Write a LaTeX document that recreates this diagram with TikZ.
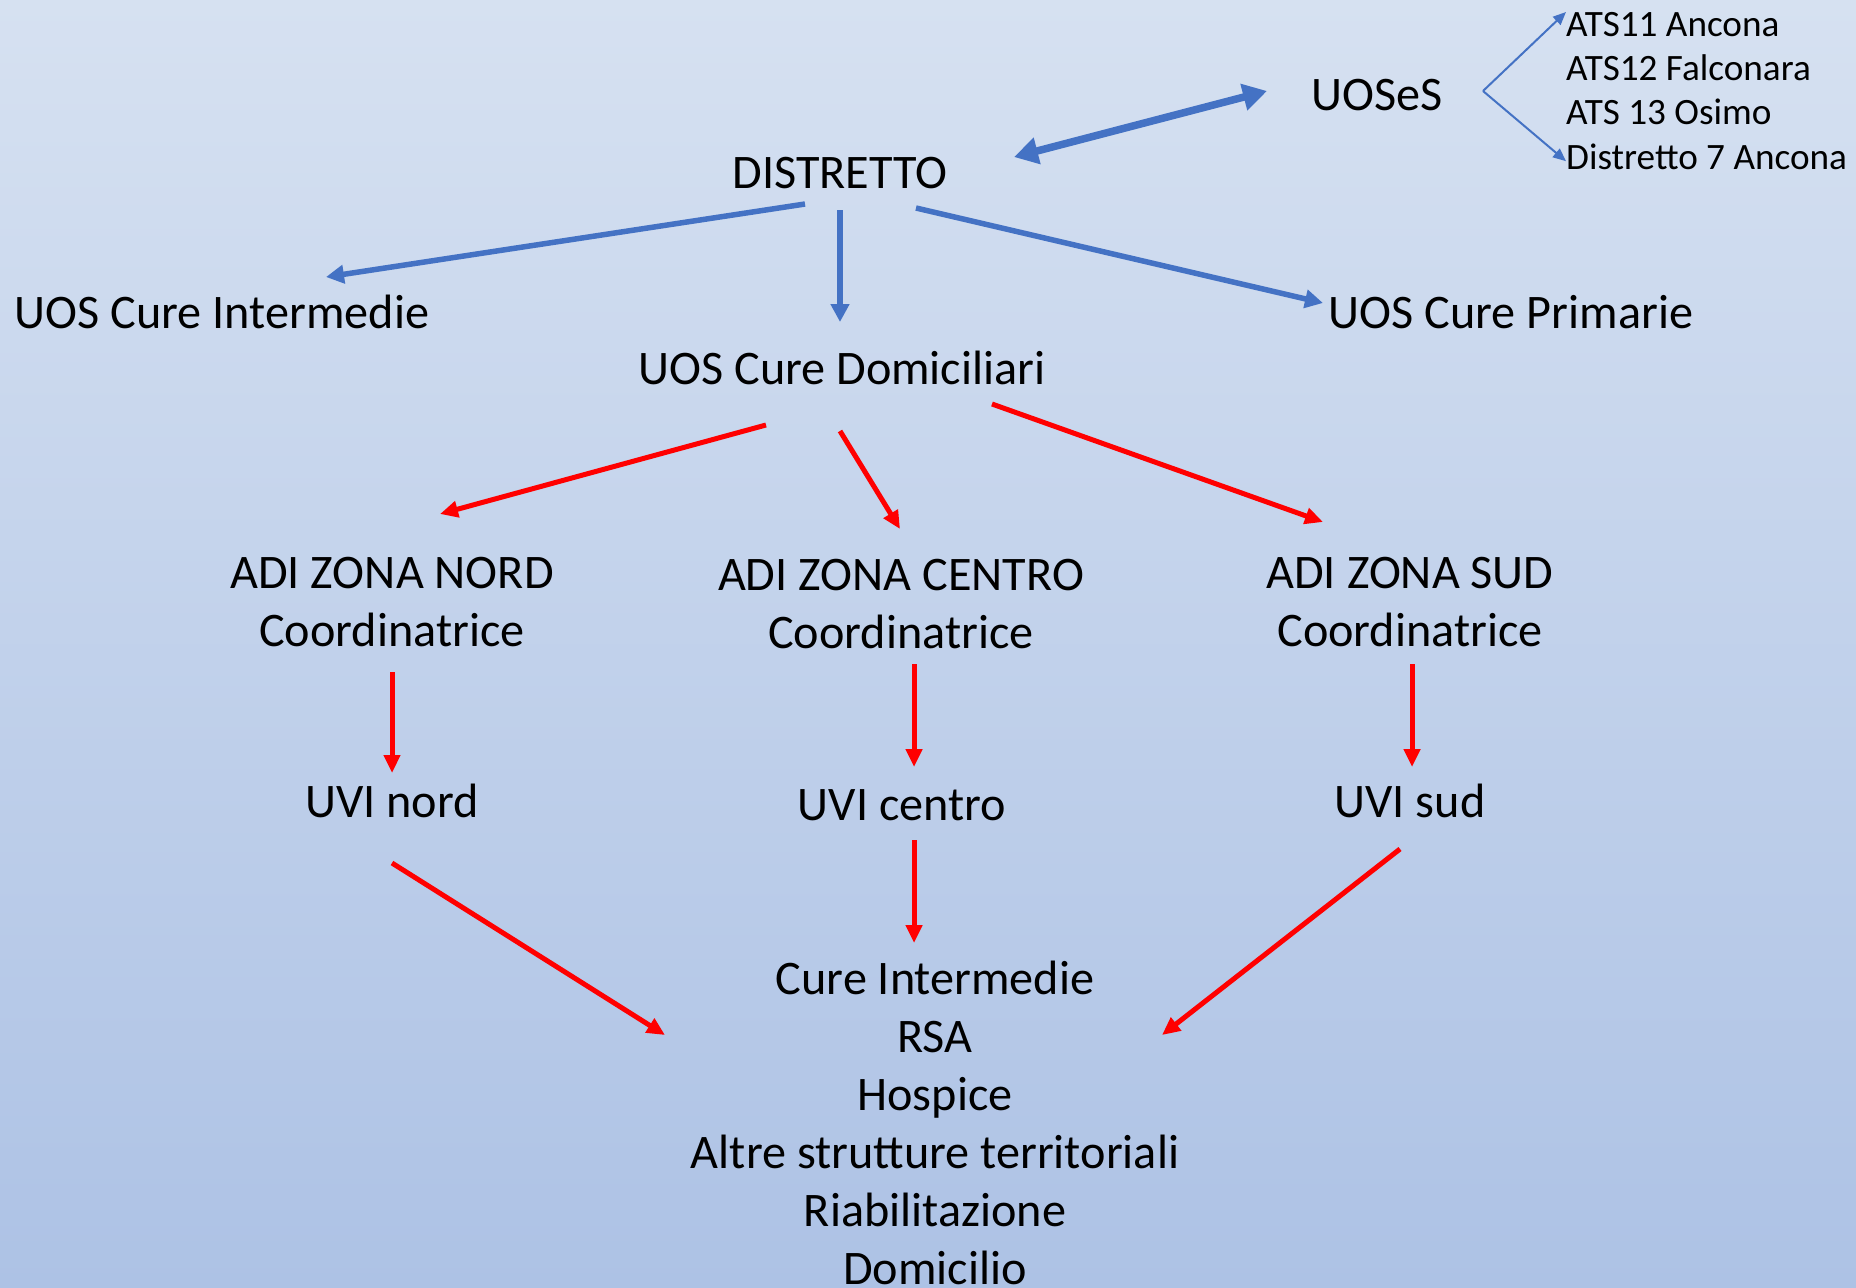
\documentclass[tikz,border=0pt]{standalone}
\usepackage{fontspec}
\setmainfont{Carlito}
\usetikzlibrary{arrows.meta}
\definecolor{bgtop}{RGB}{214,225,241}
\definecolor{bgbot}{RGB}{173,194,229}
\definecolor{offblue}{RGB}{68,114,196}
\tikzset{
  lbl/.style={inner sep=0pt, font=\fontsize{48.2}{58}\selectfont, align=center},
  small/.style={inner sep=0pt, font=\fontsize{37.2}{45}\selectfont, anchor=base west},
  bluearr/.style={draw=offblue, line width=5.5pt, -{Triangle[length=18pt,width=18pt]}},
  dblarr/.style={draw=offblue, line width=7.5pt, {Triangle[length=24pt,width=26pt]}-{Triangle[length=24pt,width=26pt]}},
  thinarr/.style={draw=offblue, line width=2pt, -{Triangle[length=13pt,width=11pt]}},
  redarr/.style={draw=red, line width=5pt, -{Triangle[length=18pt,width=16pt]}}
}

\begin{document}
\begin{tikzpicture}[x=1pt, y=-1pt]
  % background
  \shade[top color=bgtop, bottom color=bgbot] (0,0) rectangle (1856,1288);
  \useasboundingbox (0,0) rectangle (1856,1288);
  % top levels
  \node[lbl, anchor=base] (dist) at (840,188) {DISTRETTO};
  \node[lbl, anchor=base] (uoses) at (1377,110) {UOSeS};
  \foreach \t [count=\i] in {ATS11 Ancona, ATS12 Falconara, ATS 13 Osimo, Distretto 7 Ancona}
    \node[small] (ats\i) at (1566,36+44.4*\i-44.4) {\t};
  \node[lbl, anchor=base] (uosci) at (222,328) {UOS Cure Intermedie};
  \node[lbl, anchor=base] (uoscd) at (842,384) {UOS Cure Domiciliari};
  \node[lbl, anchor=base] (uoscp) at (1511,328) {UOS Cure Primarie};
  % zones
  \node[lbl, anchor=north] (adinord) at (392,557) {ADI ZONA NORD\\Coordinatrice};
  \node[lbl, anchor=north] (adicentro) at (901,559) {ADI ZONA CENTRO\\Coordinatrice};
  \node[lbl, anchor=north] (adisud) at (1410,557) {ADI ZONA SUD\\Coordinatrice};
  \node[lbl, anchor=base] (uvinord) at (392,817) {UVI nord};
  \node[lbl, anchor=base] (uvicentro) at (902,820) {UVI centro};
  \node[lbl, anchor=base] (uvisud) at (1410,817) {UVI sud};
  \node[lbl, anchor=north] (strutture) at (935,961) {Cure Intermedie\\RSA\\Hospice\\Altre strutture territoriali\\Riabilitazione\\Domicilio};
  % blue links
  \draw[dblarr] ([shift={(174,-31)}]dist.base) -- ([shift={(-110,-19)}]uoses.base);
  \draw[bluearr] ([shift={(-35,16)}]dist.base) -- ([shift={(104,-51)}]uosci.base);
  \draw[bluearr] ([shift={(0,22)}]dist.base) -- ([shift={(-2,-62)}]uoscd.base);
  \draw[bluearr] ([shift={(76,20)}]dist.base) -- ([shift={(-188,-25)}]uoscp.base);
  \coordinate (fork) at ([shift={(106,-19)}]uoses.base);
  \draw[thinarr] (fork) -- ([shift={(0,-24)}]ats1.base west);
  \draw[thinarr] (fork) -- ([shift={(0,-8)}]ats4.base west);
  % red links
  \draw[redarr] ([shift={(-76,41)}]uoscd.base) -- ([shift={(48,-43)}]adinord.north);
  \draw[redarr] ([shift={(-2,47)}]uoscd.base) -- ([shift={(-1,-30)}]adicentro.north);
  \draw[redarr] ([shift={(150,20)}]uoscd.base) -- ([shift={(-87,-35)}]adisud.north);
  \draw[redarr] ([shift={(0,25)}]adinord.south) -- ([shift={(0,-44)}]uvinord.base);
  \draw[redarr] ([shift={(13,15)}]adicentro.south) -- ([shift={(12,-53)}]uvicentro.base);
  \draw[redarr] ([shift={(2,17)}]adisud.south) -- ([shift={(2,-50)}]uvisud.base);
  \draw[redarr] ([shift={(0,46)}]uvinord.base) -- ([shift={(-270,74)}]strutture.north);
  \draw[redarr] ([shift={(12,20)}]uvicentro.base) -- ([shift={(-21,-18)}]strutture.north);
  \draw[redarr] ([shift={(-10,32)}]uvisud.base) -- ([shift={(227,74)}]strutture.north);
\end{tikzpicture}
\end{document}
